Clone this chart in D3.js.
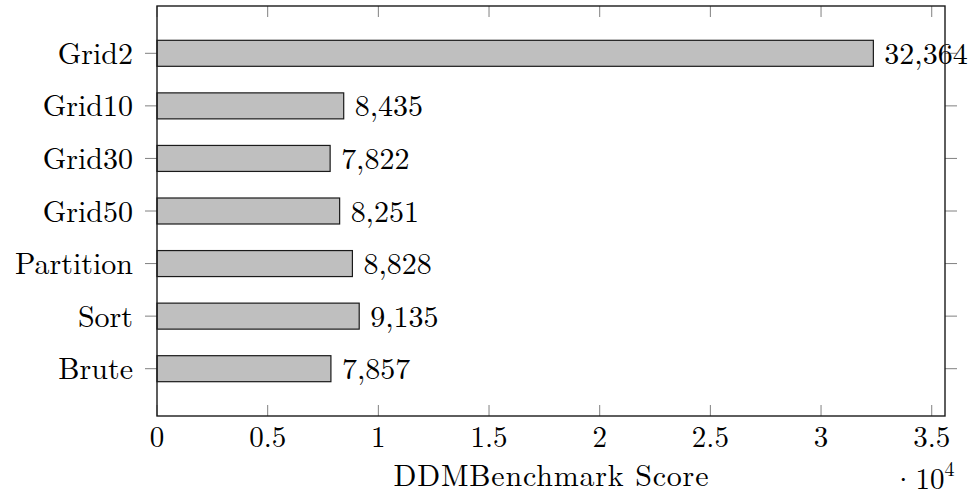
<!DOCTYPE html>
<html><head><meta charset="utf-8">
<script src="https://cdn.jsdelivr.net/npm/d3@7"></script>
<style>body{margin:0;background:#fff}svg{display:block}text{font-family:"Latin Modern Roman","CMU Serif","Liberation Serif",serif;fill:#000}</style>
</head><body><svg id="c" width="977" height="497"></svg>
<script>
const categories = ["Grid2","Grid10","Grid30","Grid50","Partition","Sort","Brute"];
const scores = [32364,8435,7822,8251,8828,9135,7857];
const xTicks = [0,5000,10000,15000,20000,25000,30000,35000];
const xTickLabels = ["0","0.5","1","1.5","2","2.5","3","3.5"];

const svg = d3.select("#c");
const L=157, R=945, T=6, B=416;
const x = d3.scaleLinear().domain([0,35600]).range([L,R]);
const y = d3.scaleLinear().domain([-0.9, categories.length-1+0.9]).range([T,B]);
const bh = 26;
const fs = 29;

const g = svg.append("g");
xTicks.forEach((t,i)=>{
  g.append("line").attr("x1",x(t)).attr("x2",x(t)).attr("y1",B).attr("y2",B-11).attr("stroke","#808080").attr("stroke-width",1);
  g.append("line").attr("x1",x(t)).attr("x2",x(t)).attr("y1",T).attr("y2",T+11).attr("stroke","#808080").attr("stroke-width",1);
  g.append("text").attr("x",x(t)).attr("y",447).attr("text-anchor","middle").attr("font-size",fs).text(xTickLabels[i]);
});
categories.forEach((c,i)=>{
  const yy = y(i);
  g.append("line").attr("x1",L-12).attr("x2",L).attr("y1",yy).attr("y2",yy).attr("stroke","#808080");
  g.append("line").attr("x1",R).attr("x2",R+12).attr("y1",yy).attr("y2",yy).attr("stroke","#808080");
  g.append("text").attr("x",L-24).attr("y",yy).attr("dy","0.35em").attr("text-anchor","end").attr("font-size",fs+1).text(c);
});
svg.append("g").selectAll("rect").data(scores).join("rect")
  .attr("x",x(0)).attr("y",(d,i)=>y(i)-bh/2).attr("width",d=>x(d)-x(0)).attr("height",bh)
  .attr("fill","#bfbfbf").attr("stroke","#1a1a1a").attr("stroke-width",1.2);
const fmt = d3.format(",");
svg.append("g").selectAll("text").data(scores).join("text")
  .attr("x",d=>x(d)+11).attr("y",(d,i)=>y(i)).attr("dy","0.35em").attr("font-size",fs+1).text(d=>fmt(d));
svg.append("rect").attr("x",L).attr("y",T).attr("width",R-L).attr("height",B-T).attr("fill","none").attr("stroke","#1a1a1a").attr("stroke-width",1.4);
svg.append("text").attr("x",(L+R)/2).attr("y",486).attr("text-anchor","middle").attr("font-size",fs+1)
  .attr("textLength",315).attr("lengthAdjust","spacing").text("DDMBenchmark Score");
const m = svg.append("text").attr("x",892).attr("y",489).attr("font-size",fs);
m.append("tspan").text("·");
m.append("tspan").attr("dx",1).text("10");
m.append("tspan").attr("dy",-13).attr("font-size",20).text("4");
</script></body></html>
